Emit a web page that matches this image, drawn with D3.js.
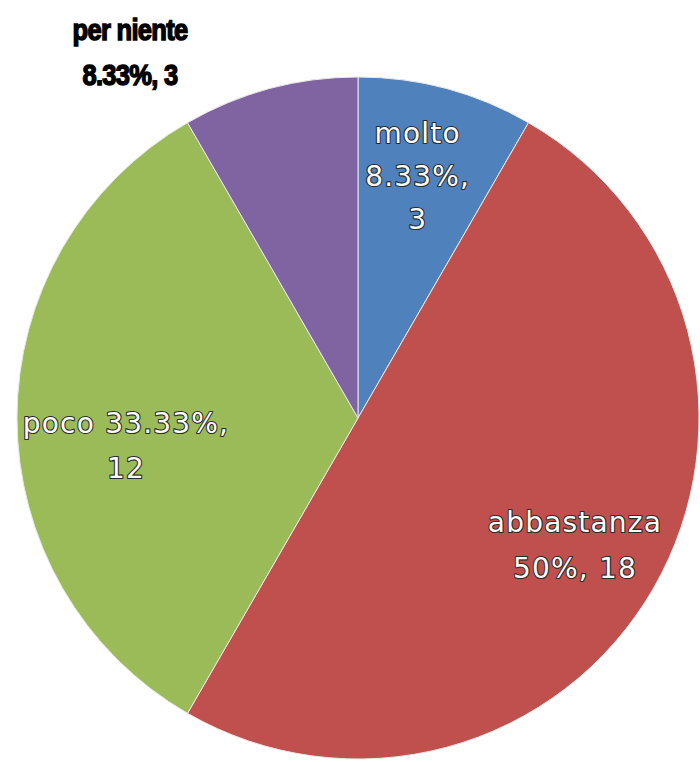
<!DOCTYPE html>
<html>
<head>
<meta charset="utf-8">
<script src="https://cdn.jsdelivr.net/npm/d3@7"></script>
<style>
html,body{margin:0;padding:0;background:#fff;}
svg{display:block;}
</style>
</head>
<body>
<script>
const categories = ["molto", "abbastanza", "poco", "per niente"];
const values = [3, 18, 12, 3];
const colors = ["#4F81BD", "#C0504D", "#9BBB59", "#8064A2"];

const W = 700, H = 762;
const cx = 358, cy = 418, R = 341;

const svg = d3.select("body").append("svg").attr("width", W).attr("height", H);
const g = svg.append("g").attr("transform", `translate(${cx},${cy})`);

const total = d3.sum(values);
const data = categories.map((c, i) => ({ cat: c, value: values[i], color: colors[i] }));

const pie = d3.pie().value(d => d.value).sort(null).startAngle(0).endAngle(2 * Math.PI);
const arc = d3.arc().innerRadius(0).outerRadius(R);
const arcs = pie(data);

g.selectAll("path.slice").data(arcs).enter().append("path")
  .attr("class", "slice")
  .attr("d", arc)
  .attr("fill", d => d.data.color)
  .attr("stroke", "#e8e8e8")
  .attr("stroke-width", 1);

function pct(v) { return +(v / total * 100).toFixed(2) + "%"; }

// label layouts (lines + placement) per slice
const layouts = [
  { lines: d => [d.cat, pct(d.value) + ",", String(d.value)], r: 250, size: 28, lh: 43, dy: 0, dx: -5, inside: true },
  { lines: d => [d.cat, pct(d.value) + ", " + d.value], r: 254, size: 28, lh: 46, dy: 0, dx: -3, inside: true },
  { lines: d => [d.cat + " " + pct(d.value) + ",", String(d.value)], r: 232, size: 28, lh: 45, dy: 28, dx: 0, inside: true },
  { lines: d => [d.cat, pct(d.value) + ", " + d.value], inside: false, x: 130 - cx, y: 52 - cy, size: 29, lh: 45 }
];

arcs.forEach((a, i) => {
  const L = layouts[i];
  const lines = L.lines(a.data);
  let x, y;
  if (L.inside) {
    const mid = (a.startAngle + a.endAngle) / 2;
    x = Math.sin(mid) * L.r + L.dx;
    y = -Math.cos(mid) * L.r + L.dy;
  } else {
    x = L.x; y = L.y;
  }
  const n = lines.length;
  const wrap = g.append("g").attr("transform", L.inside ? null : `translate(${x},0) scale(0.88,1) translate(${-x},0)`);
  const t = wrap.append("text")
    .attr("text-anchor", "middle")
    .attr("font-size", L.size);
  if (L.inside) {
    t.attr("font-family", "'DejaVu Sans', Verdana, sans-serif")
      .attr("fill", "#ffffff")
      .attr("stroke", "#2a2a2a")
      .attr("stroke-width", 2.2)
      .attr("paint-order", "stroke")
      .attr("stroke-linejoin", "round")
      .attr("letter-spacing", 1.2);
  } else {
    t.attr("font-family", "'Liberation Sans', Arial, sans-serif")
      .attr("font-weight", "bold")
      .attr("fill", "#000")
      .attr("stroke", "#000")
      .attr("stroke-width", 1.4)
      .attr("letter-spacing", -0.8);
  }
  lines.forEach((ln, k) => {
    t.append("tspan")
      .attr("x", x)
      .attr("y", y + (k - (n - 1) / 2) * L.lh)
      .attr("dy", "0.35em")
      .text(ln);
  });
});
</script>
</body>
</html>
